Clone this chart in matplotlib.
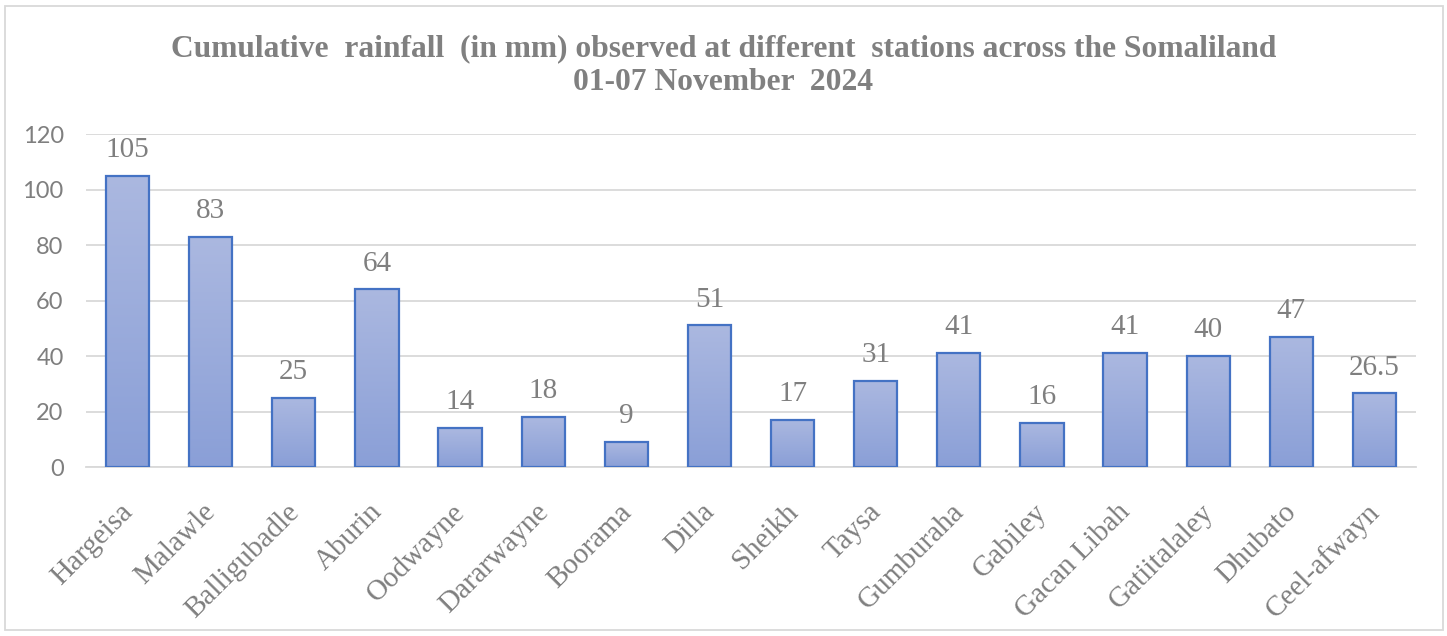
import matplotlib
matplotlib.use("Agg")
import matplotlib.pyplot as plt
import matplotlib.transforms as mtransforms
from matplotlib.colors import LinearSegmentedColormap
from matplotlib.patches import Rectangle
import numpy as np

# data
stations = ["Hargeisa", "Malawle", "Balligubadle", "Aburin", "Oodwayne", "Dararwayne",
            "Boorama", "Dilla", "Sheikh", "Taysa", "Gumburaha", "Gabiley",
            "Gacan Libah", "Gatiitalaley", "Dhubato", "Ceel-afwayn"]
rainfall = [105, 83, 25, 64, 14, 18, 9, 51, 17, 31, 41, 16, 41, 40, 47, 26.5]
value_labels = ["105", "83", "25", "64", "14", "18", "9", "51", "17", "31", "41", "16",
                "41", "40", "47", "26.5"]
yticks = [0, 20, 40, 60, 80, 100, 120]

title = ("Cumulative  rainfall  (in mm) observed at different  stations across the Somaliland\n"
         "01-07 November  2024")

fig = plt.figure(figsize=(14.47, 6.36), dpi=100)
ax = fig.add_axes([0.0594, 0.2657, 0.9192, 0.5236])

x = np.arange(len(stations))
bars = ax.bar(x, rainfall, width=0.52, color="none", edgecolor="#4472C4",
              linewidth=1.6, zorder=3)

# gradient fill, lighter on top
grad_cmap = LinearSegmentedColormap.from_list("bargrad", ["#8A9FD7", "#ABB8E0"])
grad = np.linspace(0, 1, 256).reshape(-1, 1)
for b in bars:
    x0, w, h = b.get_x(), b.get_width(), b.get_height()
    im = ax.imshow(grad, cmap=grad_cmap, origin="lower", aspect="auto",
                   extent=(x0, x0 + w, 0, h), zorder=2)
    im.set_clip_path(b)

ax.set_xlim(-0.5, len(stations) - 0.5)
ax.set_ylim(0, 120)
ax.set_yticks(yticks)
ax.yaxis.grid(True, color="#D9D9D9", linewidth=1.3, zorder=0)
ax.set_axisbelow(True)
for s in ["top", "right", "left"]:
    ax.spines[s].set_visible(False)
ax.spines["bottom"].set_color("#D9D9D9")
ax.spines["bottom"].set_linewidth(1.3)
ax.tick_params(axis="both", length=0)
ax.tick_params(axis="y", pad=16)

for lbl in ax.get_yticklabels():
    lbl.set_fontfamily("Lato")
    lbl.set_fontsize(17)
    lbl.set_color("#7F7F7F")

ax.set_xticks(x)
ax.set_xticklabels(stations, rotation=45, ha="right", rotation_mode="anchor",
                   fontfamily="Liberation Serif", fontsize=21, color="#7F7F7F")
offset = mtransforms.ScaledTranslation(-8 / 100, -27 / 100, fig.dpi_scale_trans)
for lbl in ax.get_xticklabels():
    lbl.set_transform(lbl.get_transform() + offset)

for xi, v, t in zip(x, rainfall, value_labels):
    ax.annotate(t, (xi, v), xytext=(0, 13.5), textcoords="offset points",
                ha="center", va="baseline", fontfamily="Liberation Serif",
                fontsize=21, color="#7F7F7F")

fig.text(0.5, 0.897, title, ha="center", va="center", fontfamily="Liberation Serif",
         fontweight="bold", fontsize=22.7, color="#808080", linespacing=1.2)

fig.patches.append(Rectangle((5 / 1447, 6 / 636), 1438 / 1447, 624 / 636,
                             transform=fig.transFigure, fill=False,
                             edgecolor="#D9D9D9", linewidth=1.3))

fig.savefig("out.png", dpi=100)
